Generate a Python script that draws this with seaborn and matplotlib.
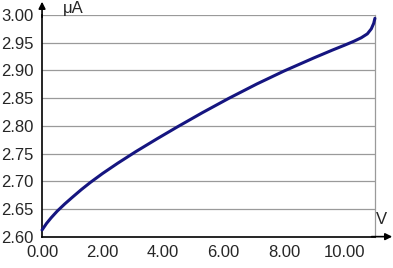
import matplotlib
matplotlib.use("Agg")
import matplotlib.pyplot as plt
import seaborn as sns
import pandas as pd

# Data
voltage = [0, 0.15, 0.3, 0.5, 0.75, 1.0, 1.3, 1.6, 2.0, 2.5, 3.1, 3.8, 4.45,
           5.3, 6.15, 7.1, 8.0, 9.0, 9.6, 10.0, 10.3, 10.55, 10.75, 10.88,
           10.96, 11.0]
current = [2.612, 2.624, 2.634, 2.646, 2.659, 2.671, 2.685, 2.698, 2.714,
           2.7325, 2.7535, 2.7766, 2.7974, 2.8238, 2.849, 2.8756, 2.899,
           2.923, 2.9368, 2.9456, 2.9525, 2.959, 2.966, 2.975, 2.985, 2.994]
x_ticks = [0, 2, 4, 6, 8, 10]
y_ticks = [2.60, 2.65, 2.70, 2.75, 2.80, 2.85, 2.90, 2.95, 3.00]

sns.set_style("white")
plt.rcParams['font.family'] = ['Liberation Sans', 'DejaVu Sans']

df = pd.DataFrame({"V": voltage, "uA": current})

fig = plt.figure(figsize=(3.93, 2.68), dpi=100)
ax = fig.add_axes([0.107, 0.117, 0.847, 0.827])

for yv in y_ticks[1:]:
    ax.axhline(yv, color="#9a9a9a", lw=0.9, zorder=1)

sns.lineplot(data=df, x="V", y="uA", ax=ax, color="#151580", lw=2.2,
             zorder=3, clip_on=False)

ax.set_xlim(0, 11)
ax.set_ylim(2.60, 3.00)
ax.set_xticks(x_ticks)
ax.set_xticklabels([f"{v:.2f}" for v in x_ticks])
ax.set_yticks(y_ticks)
ax.set_yticklabels([f"{v:.2f}" for v in y_ticks])
ax.tick_params(axis="both", labelsize=12, length=4, width=1, color="black",
               direction="out", pad=2)
ax.tick_params(axis="y", pad=2)
ax.set_xlabel("")
ax.set_ylabel("")

ax.spines["top"].set_visible(False)
ax.spines["right"].set_color("#9a9a9a")
ax.spines["right"].set_linewidth(0.9)
ax.spines["left"].set_color("black")
ax.spines["left"].set_linewidth(1.2)
ax.spines["bottom"].set_color("black")
ax.spines["bottom"].set_linewidth(1.2)

# axis arrows
ax.annotate("", xy=(1.052, 0), xytext=(0.99, 0), xycoords="axes fraction",
            arrowprops=dict(arrowstyle="-|>", color="black", lw=1.2,
                            mutation_scale=10, shrinkA=0, shrinkB=0))
ax.annotate("", xy=(0, 1.06), xytext=(0, 0.99), xycoords="axes fraction",
            arrowprops=dict(arrowstyle="-|>", color="black", lw=1.2,
                            mutation_scale=10, shrinkA=0, shrinkB=0))

fig.text(63 / 393, 1 - 9 / 268, "μA", fontsize=12, va="center", ha="left")
fig.text(376 / 393, 1 - 220 / 268, "V", fontsize=12, va="center", ha="left")

fig.savefig("out.png", dpi=100)
